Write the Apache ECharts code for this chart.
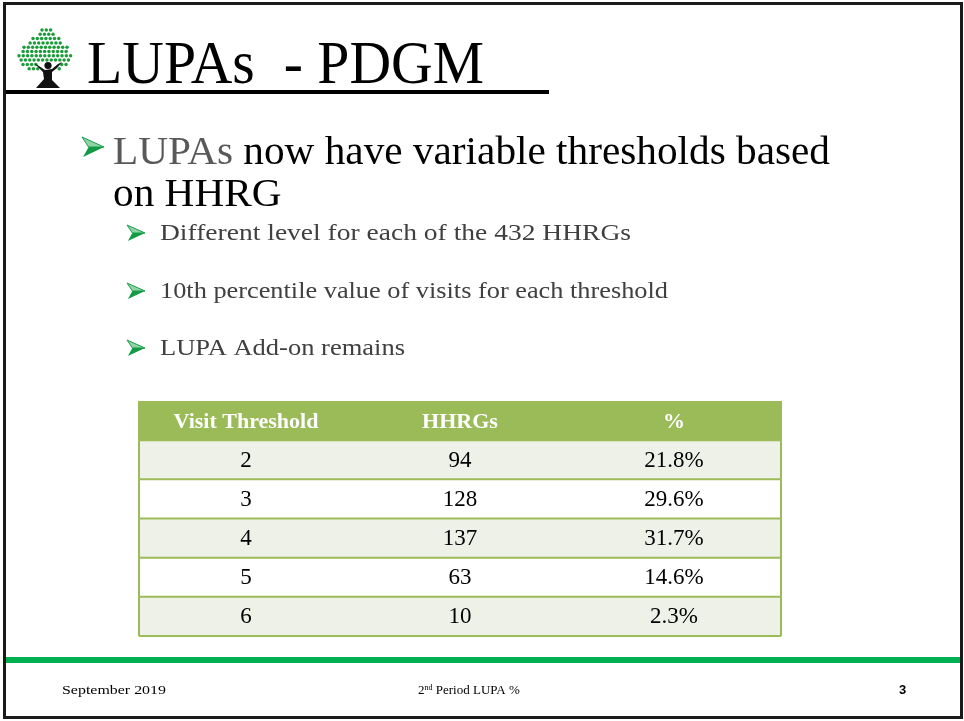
<!DOCTYPE html>
<html><head><meta charset="utf-8">
<script src="https://cdn.jsdelivr.net/npm/echarts@6/dist/echarts.min.js"></script>
<style>html,body{margin:0;padding:0;background:#fff}#c{width:964px;height:721px}</style>
</head><body><div id="c"></div>
<script>
// ---- data ----
const headers = ['Visit Threshold', 'HHRGs', '%'];
const thresholds = ['2', '3', '4', '5', '6'];
const hhrgs = [94, 128, 137, 63, 10];
const pcts = [21.8, 29.6, 31.7, 14.6, 2.3];
const titleText = 'LUPAs  - PDGM';
const bulletMain = ['LUPAs', ' now have variable thresholds based', 'on HHRG'];
const subBullets = ['Different level for each of the 432 HHRGs', '10th percentile value of visits for each threshold', 'LUPA Add-on remains'];
const footerLeft = 'September 2019';
const footerMid = ['2', 'nd', ' Period LUPA %'];
const pageNum = '3';

// ---- helpers ----
const SERIF = '"Liberation Serif", "DejaVu Serif", serif';
const mctx = document.createElement('canvas').getContext('2d');
function fitScale(text, font, w) { mctx.font = font; return w / mctx.measureText(text).width; }

function textEl(text, x, baseline, size, fill, targetW, weight, family) {
  const font = (weight || 'normal') + ' ' + size + 'px ' + (family || SERIF);
  const sx = targetW ? fitScale(text, font, targetW) : 1;
  return { type: 'text', x: x, y: baseline, scaleX: sx, z: 10,
    style: { text: text, font: font, fill: fill, verticalAlign: 'bottom', lineHeight: size } };
}
function arrow(x, y, w, h) {
  return { type: 'group', x: x, y: y, z: 10, children: [
    { type: 'polygon', shape: { points: [[0, 0], [w, h * 0.5], [w * 0.3, h * 0.5]] }, style: { fill: '#8fd3a6', stroke: '#1a9e4b', lineWidth: 1 } },
    { type: 'polygon', shape: { points: [[w * 0.3, h * 0.5], [w, h * 0.5], [w * 0.05, h]] }, style: { fill: '#129a45' } }
  ]};
}

// logo dots (decoration)
const logo = [];
const rowsSpec = [[30, 42, 53], [34.3, 38, 56], [38.6, 33, 60], [42.9, 28, 64], [47.2, 24, 67], [51.5, 21, 70], [55.8, 19, 72], [60.1, 19, 72], [64.4, 23, 70], [68.7, 27, 62]];
rowsSpec.forEach(function (r, i) {
  const off = (i % 2) * 2.15;
  for (let x = r[1] + off; x <= r[2]; x += 4.3) {
    if (r[0] > 62 && x > 38 && x < 58) continue;
    logo.push({ type: 'circle', shape: { cx: x, cy: r[0], r: 1.75 }, style: { fill: '#1d9c3c' }, z: 10 });
  }
});
logo.push({ type: 'circle', shape: { cx: 48, cy: 65.5, r: 3.6 }, style: { fill: '#111' }, z: 11 });
logo.push({ type: 'polygon', shape: { points: [[34, 63], [38, 67], [43, 72], [44, 79], [36, 88], [60, 88], [52, 80], [52, 72], [57, 68], [62, 62], [58, 64], [52, 69], [45, 70], [39, 66]] }, style: { fill: '#111' }, z: 11 });

// ---- graphics ----
const mainFont = 'normal 40px ' + SERIF;
const mainScale = fitScale(bulletMain[0] + bulletMain[1], mainFont, 717);
const graphics = [
  { type: 'rect', shape: { x: 4.5, y: 3.5, width: 957, height: 714 }, style: { fill: null, stroke: '#1a1a1a', lineWidth: 3 }, z: 20 },
  { type: 'rect', shape: { x: 4, y: 90, width: 545, height: 4 }, style: { fill: '#000' }, z: 10 },
  { type: 'rect', shape: { x: 6, y: 657, width: 954, height: 6 }, style: { fill: '#00b050' }, z: 10 },
  textEl(titleText, 87, 97, 61, '#000', 397),
  arrow(82, 137, 22, 20),
  { type: 'text', x: 113, y: 173, scaleX: mainScale, z: 10,
    style: { text: '{g|' + bulletMain[0] + '}{k|' + bulletMain[1] + '}', verticalAlign: 'bottom',
      rich: { g: { font: mainFont, fill: '#595959', lineHeight: 40 }, k: { font: mainFont, fill: '#000', lineHeight: 40 } } } },
  { type: 'text', x: 113, y: 215, scaleX: mainScale, z: 10, style: { text: bulletMain[2], font: mainFont, fill: '#000', verticalAlign: 'bottom', lineHeight: 40 } },
  textEl(footerLeft, 62, 697, 13, '#000', 104),
  { type: 'text', x: 418, y: 697, z: 10, style: { text: '{a|' + footerMid[0] + '}{s|' + footerMid[1] + '}{a|' + footerMid[2] + '}', verticalAlign: 'bottom',
      rich: { a: { font: 'normal 13px ' + SERIF, fill: '#000', lineHeight: 13 }, s: { font: 'normal 8px ' + SERIF, fill: '#000', verticalAlign: 'top', lineHeight: 13, padding: [0, 0, 6, 0] } } } },
  textEl(pageNum, 899, 697, 13, '#000', null, 'bold', '"Liberation Sans", sans-serif')
];
const subBase = [246, 304, 361];
const subW = [471, 508, 245];
subBullets.forEach(function (s, i) {
  graphics.push(arrow(127, subBase[i] - 21, 18, 16));
  graphics.push(textEl(s, 160, subBase[i], 24, '#404040', subW[i]));
});
logo.forEach(function (e) { graphics.push(e); });

// ---- table data ----
const cells = [];
headers.forEach(function (h, c) { cells.push([c, 0, h, 1]); });
thresholds.forEach(function (t, r) {
  cells.push([0, r + 1, t, 0]);
  cells.push([1, r + 1, String(hhrgs[r]), 0]);
  cells.push([2, r + 1, pcts[r].toFixed(1) + '%', 0]);
});
const rowCats = ['header'].concat(thresholds);

const chart = echarts.init(document.getElementById('c'), null, { renderer: 'canvas' });
chart.setOption({
  animation: false,
  backgroundColor: '#fff',
  grid: { left: 139, top: 401, width: 642, height: 235, show: false },
  xAxis: { type: 'category', data: headers, show: false },
  yAxis: { type: 'category', data: rowCats, inverse: true, show: false },
  graphic: graphics,
  series: [{
    type: 'custom',
    data: cells,
    renderItem: function (params, api) {
      const c = api.value(0), r = api.value(1);
      const p = api.coord([c, r]);
      const sz = api.size([1, 1]);
      const x = p[0] - sz[0] / 2, y = p[1] - sz[1] / 2;
      const isHeader = api.value(3) === 1;
      const fill = isHeader ? '#9bbb59' : (r % 2 === 1 ? '#eef1e8' : '#ffffff');
      const txt = cells[params.dataIndex][2];
      const children = [
        { type: 'rect', shape: { x: x, y: y, width: sz[0] + 0.5, height: sz[1] + 0.5 }, style: { fill: fill } },
        { type: 'text', x: p[0], y: p[1] + (isHeader ? 2 : 1), style: { text: txt, align: 'center', verticalAlign: 'middle',
          font: (isHeader ? 'bold 22px ' : 'normal 23px ') + SERIF, fill: isHeader ? '#fff' : '#000' } },
        { type: 'line', shape: { x1: x, y1: y + sz[1], x2: x + sz[0], y2: y + sz[1] }, style: { stroke: '#9bbb59', lineWidth: 2 }, z2: 5 }
      ];
      if (c === 0) children.push({ type: 'line', shape: { x1: x, y1: y, x2: x, y2: y + sz[1] }, style: { stroke: '#9bbb59', lineWidth: 2 }, z2: 5 });
      if (c === 2) children.push({ type: 'line', shape: { x1: x + sz[0], y1: y, x2: x + sz[0], y2: y + sz[1] }, style: { stroke: '#9bbb59', lineWidth: 2 }, z2: 5 });
      return { type: 'group', children: children };
    }
  }]
});
</script></body></html>
